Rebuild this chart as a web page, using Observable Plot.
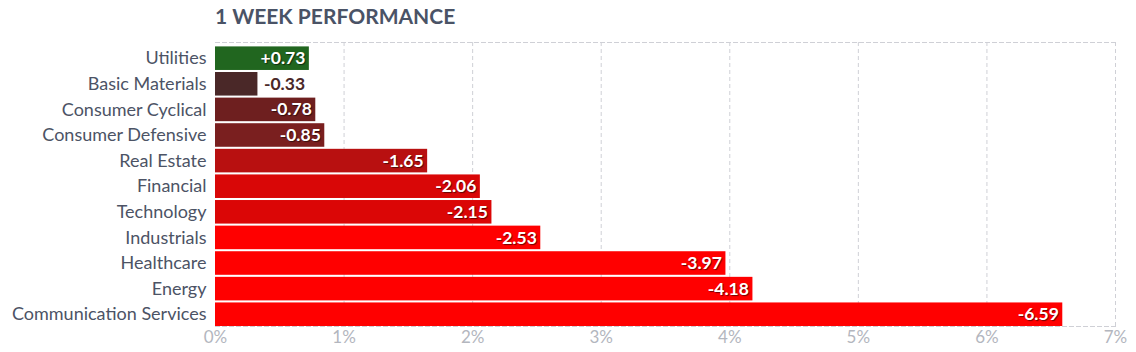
<!DOCTYPE html>
<html>
<head>
<meta charset="utf-8">
<script src="https://cdn.jsdelivr.net/npm/d3@7"></script>
<script src="https://cdn.jsdelivr.net/npm/@observablehq/plot@0.6"></script>
<style>
  html, body { margin: 0; padding: 0; background: #fff; }
  body { width: 1136px; height: 352px; overflow: hidden; font-family: Lato, "Open Sans", sans-serif; }
  #title { height: 32px; padding-left: 215px; box-sizing: border-box; font: bold 21px Lato, sans-serif; color: #4a5366; line-height: 32px; }
  #chart svg { font-family: Lato, sans-serif; display: block; }
  .yax text { fill: #4c5365; font-size: 18px; }
  .xax text { fill: #b3b6be; font-size: 17px; }
  .vin text { text-shadow: 1px 1px 1px rgba(0,0,0,0.55); }
</style>
</head>
<body>
<div id="title">1 WEEK PERFORMANCE</div>
<div id="chart"></div>
<script>
const sectors = ["Utilities", "Basic Materials", "Consumer Cyclical", "Consumer Defensive", "Real Estate", "Financial", "Technology", "Industrials", "Healthcare", "Energy", "Communication Services"];
const changes = [0.73, -0.33, -0.78, -0.85, -1.65, -2.06, -2.15, -2.53, -3.97, -4.18, -6.59];
const barColors = ["#21661f", "#4a2828", "#6e1f1f", "#7a1f1f", "#b81010", "#d90707", "#db0606", "#ff0000", "#ff0000", "#ff0000", "#ff0000"];
const xTicks = [0, 1, 2, 3, 4, 5, 6, 7];

const data = sectors.map((s, i) => ({sector: s, v: changes[i], len: Math.abs(changes[i]), color: barColors[i]}));
const fmt = v => (v > 0 ? "+" : "-") + Math.abs(v).toFixed(2);
const inside = data.filter(d => d.len > 0.5);
const outside = data.filter(d => d.len <= 0.5);
const grid = "#cfd0d6";

const chart = Plot.plot({
  width: 1136,
  height: 320,
  marginLeft: 215,
  marginRight: 21,
  marginTop: 10,
  marginBottom: 26,
  x: {domain: [0, 7], axis: null},
  y: {domain: sectors, paddingInner: 0.08, paddingOuter: 0.086, align: 1, round: false, axis: null},
  marks: [
    Plot.ruleX(xTicks.slice(1), {stroke: grid, strokeDasharray: "4,3", strokeWidth: 1}),
    Plot.frame({anchor: "top", stroke: grid, strokeDasharray: "4,3"}),
    Plot.frame({anchor: "bottom", stroke: grid, strokeDasharray: "4,3"}),
    Plot.barX(data, {x: "len", y: "sector", fill: d => d.color}),
    Plot.text(inside, {x: "len", y: "sector", text: d => fmt(d.v), textAnchor: "end", dx: -4, fill: "white", fontWeight: "bold", fontSize: 17.5, className: "vin"}),
    Plot.text(outside, {x: "len", y: "sector", text: d => fmt(d.v), textAnchor: "start", dx: 6, fill: d => d.color, fontWeight: "bold", fontSize: 17.5}),
    Plot.axisY({tickSize: 0, tickPadding: 9, label: null, className: "yax"}),
    Plot.axisX({ticks: xTicks, tickFormat: d => d + "%", tickSize: 0, tickPadding: 4, label: null, className: "xax"})
  ]
});
document.getElementById("chart").appendChild(chart);
</script>
</body>
</html>
